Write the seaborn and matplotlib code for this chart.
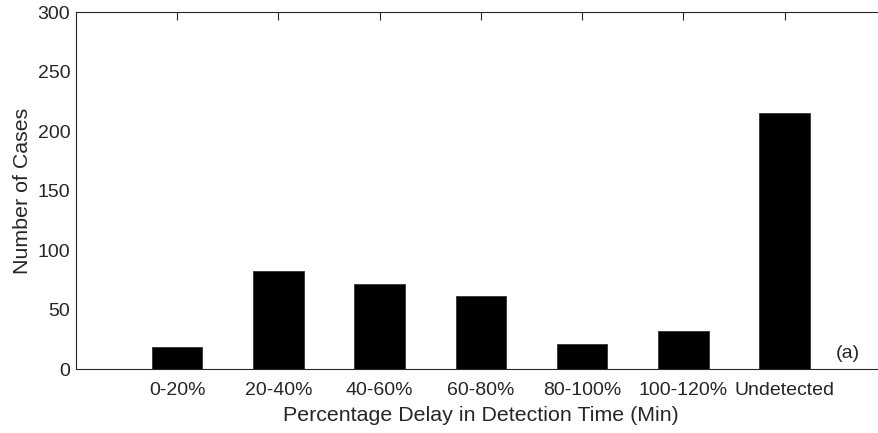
import matplotlib
matplotlib.use("Agg")
import matplotlib.pyplot as plt
import seaborn as sns
import pandas as pd

categories = ["0-20%", "20-40%", "40-60%", "60-80%", "80-100%", "100-120%", "Undetected"]
cases = [18, 82, 71, 61, 21, 32, 215]
y_ticks = [0, 50, 100, 150, 200, 250, 300]

sns.set_theme(style="white")
plt.rcParams["font.family"] = ["Liberation Sans", "DejaVu Sans"]
TXT = "#262626"

df = pd.DataFrame({"cat": categories, "n": cases})

fig = plt.figure(figsize=(8.785, 4.335), dpi=100)
ax = fig.add_axes([75.8 / 878, 64 / 433, 809.6 / 878, 356.7 / 433])

sns.barplot(data=df, x="cat", y="n", order=categories, color="black",
            width=0.5, edgecolor="#333333", linewidth=0.6, saturation=1, ax=ax)

ax.set_xlim(-1, 7)
ax.set_ylim(0, 300)
ax.set_yticks(y_ticks)
ax.set_yticklabels([str(v) for v in y_ticks])

for name, s in ax.spines.items():
    s.set_visible(name != "right")
    s.set_color(TXT)
    s.set_linewidth(0.8)

ax.tick_params(axis="both", direction="in", length=6, width=0.8, color=TXT,
               labelsize=14, labelcolor=TXT, top=True, right=True)
ax.tick_params(axis="x", pad=9)
ax.tick_params(axis="y", pad=4)

ax.set_xlabel("Percentage Delay in Detection Time (Min)", fontsize=15.4, color=TXT, labelpad=5)
ax.set_ylabel("Number of Cases", fontsize=15.4, color=TXT, labelpad=4)

ax.text(6.62, 13.5, "(a)", fontsize=14, color=TXT, ha="center", va="center")

fig.savefig("out.png", dpi=100)
